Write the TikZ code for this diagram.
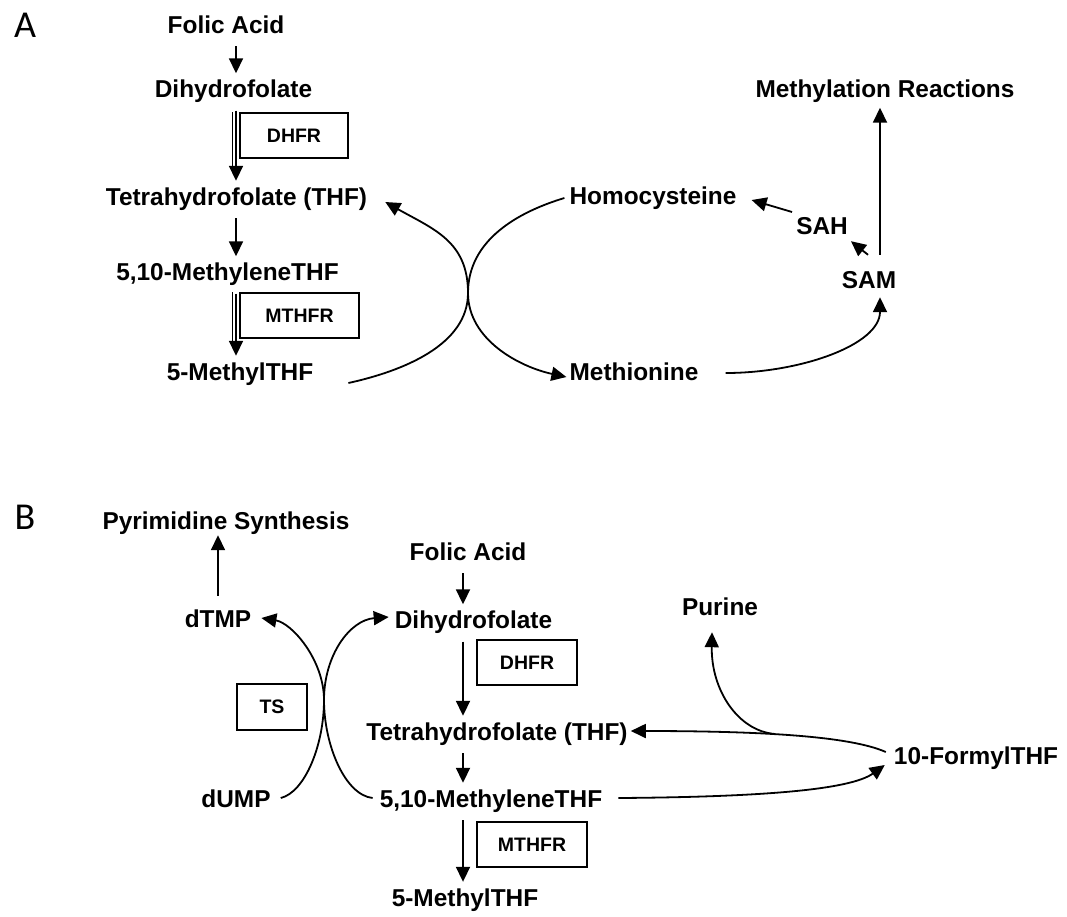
\documentclass[tikz,border=0pt]{standalone}
\usepackage{fontspec}
\setmainfont{Liberation Sans}
\newfontfamily\panelfont{Carlito}
\usetikzlibrary{arrows.meta}

\tikzset{
  lbl/.style={font=\fontsize{24.4}{28}\selectfont\bfseries, inner sep=0pt, text height=18pt, text depth=0pt},
  enz/.style={draw, line width=1.4pt, font=\fontsize{19.5}{22}\selectfont\bfseries, inner sep=0pt, minimum height=45pt},
  arr/.style={line width=1.8pt, -{Triangle[length=15pt,width=14pt]}},
  vflow/.style={arr, shorten <=13pt, shorten >=6pt},
  twin/.style={line width=1.4pt},
  panel/.style={font=\panelfont\fontsize{38}{40}\selectfont, inner sep=0pt}
}

\begin{document}
\begin{tikzpicture}[x=1pt,y=-1pt]

    \path[use as bounding box, fill=white] (0,0) rectangle (1067,916);

    %panel A
    \node[panel] (pA) at (25,25) {A};

    \coordinate (axA) at (236,0);
    \coordinate (xA) at (468,293);

    \node[lbl] (faA) at (226,24) {Folic Acid};
    \node[lbl] (dhfA) at (233.5,88.5) {Dihydrofolate};
    \node[lbl] (thfA) at (236.5,196) {Tetrahydrofolate (THF)};
    \node[lbl] (mtA) at (227.5,271.5) {5,10-MethyleneTHF};
    \node[lbl] (m5A) at (240,371) {5-MethylTHF};

    \node[enz, minimum width=108pt] (dhfrA) at (294,135.5) {DHFR};
    \node[enz, minimum width=119pt] (mthfrA) at (299.5,315.5) {MTHFR};

    \node[lbl] (hcy) at (653,195) {Homocysteine};
    \node[lbl] (met) at (634,371.5) {Methionine};
    \node[lbl] (sah) at (822,225) {SAH};
    \node[lbl] (sam) at (869,279) {SAM};
    \node[lbl] (mr) at (885,88.5) {Methylation Reactions};

    \draw[vflow] (faA.south -| axA) -- (dhfA.north -| axA);
    \draw[vflow] (dhfA.south -| axA) -- (thfA.north -| axA);
    \draw[vflow] (thfA.south -| axA) -- (mtA.north -| axA);
    \draw[vflow] (mtA.south -| axA) -- (m5A.north -| axA);
    \draw[twin] ([xshift=-7pt]dhfrA.north west) -- ++(0,55);
    \draw[twin] ([xshift=-7pt]mthfrA.north west) -- ++(0,55);

    %crossing cycle
    \draw[arr] ([xshift=35pt,yshift=-12pt]m5A.east) .. controls (403,371) and (468,345) .. (xA)
        .. controls (468,241) and (433,229) .. ([xshift=18pt,yshift=-6pt]thfA.east);
    \draw[arr] ([xshift=-5pt,yshift=-3pt]hcy.west) .. controls (518,212) and (468,240) .. (xA)
        .. controls (468,340) and (520,367) .. ([xshift=-3pt,yshift=-5.5pt]met.west);

    \draw[arr] ([xshift=27pt,yshift=-1.5pt]met.east) .. controls (800,373) and (880,345) .. ([xshift=11pt,yshift=-9pt]sam.south);
    \draw[arr] ([xshift=11pt,yshift=15pt]sam.north) -- ([xshift=-5pt,yshift=-10pt]mr.south);
    \draw[arr] ([xshift=-1pt,yshift=15pt]sam.north) -- ([xshift=3pt,yshift=-7pt]sah.south east);
    \draw[arr] ([xshift=-4pt,yshift=13pt]sah.west) -- ([xshift=15pt,yshift=-5pt]hcy.east);

    %panel B
    \node[panel] (pB) at (25,517) {B};

    \coordinate (axB) at (463,0);
    \coordinate (xB) at (324,700);
    \coordinate (br) at (775,734);

    \node[lbl] (pyr) at (226,520) {Pyrimidine Synthesis};
    \node[lbl] (dtmp) at (218,618) {dTMP};
    \node[lbl] (dump) at (236,798) {dUMP};
    \node[enz, minimum width=70pt, minimum height=46pt] (ts) at (272,707) {TS};

    \node[lbl] (faB) at (468,551) {Folic Acid};
    \node[lbl] (dhfB) at (473.5,619.5) {Dihydrofolate};
    \node[lbl] (thfB) at (497,731) {Tetrahydrofolate (THF)};
    \node[lbl] (mtB) at (491,798) {5,10-MethyleneTHF};
    \node[lbl] (m5B) at (465,897) {5-MethylTHF};

    \node[enz, minimum width=100pt] (dhfrB) at (527,662.5) {DHFR};
    \node[enz, minimum width=110pt] (mthfrB) at (532,844.5) {MTHFR};

    \node[lbl] (pur) at (720,606.5) {Purine};
    \node[lbl] (fth) at (976,755) {10-FormylTHF};

    \draw[vflow] (dtmp.north) -- (dtmp.north |- pyr.south);
    \draw[vflow] (faB.south -| axB) -- (dhfB.north -| axB);
    \draw[vflow] (dhfB.south -| axB) -- (thfB.north -| axB);
    \draw[vflow] (thfB.south -| axB) -- (mtB.north -| axB);
    \draw[vflow] (mtB.south -| axB) -- (m5B.north -| axB);

    %TS crossing
    \draw[arr] ([xshift=10pt]dump.east) .. controls (305,792) and (324,745) .. (xB)
        .. controls (324,660) and (292,623) .. ([xshift=10pt]dtmp.east);
    \draw[arr] ([xshift=-7pt]mtB.west) .. controls (345,795) and (324,745) .. (xB)
        .. controls (324,655) and (350,620) .. ([xshift=-6pt,yshift=2.5pt]dhfB.west);

    %formyl loop
    \draw[arr] ([xshift=-8pt,yshift=3pt]fth.west) .. controls (850,736) and (760,731) .. ([xshift=3pt]thfB.east);
    \draw[arr] (br) .. controls (738,731) and (711,690) .. ([xshift=-8pt,yshift=-16.5pt]pur.south);
    \draw[arr] ([xshift=16pt]mtB.east) .. controls (760,797) and (850,790) .. ([xshift=-9pt,yshift=-10pt]fth.west);

\end{tikzpicture}
\end{document}
